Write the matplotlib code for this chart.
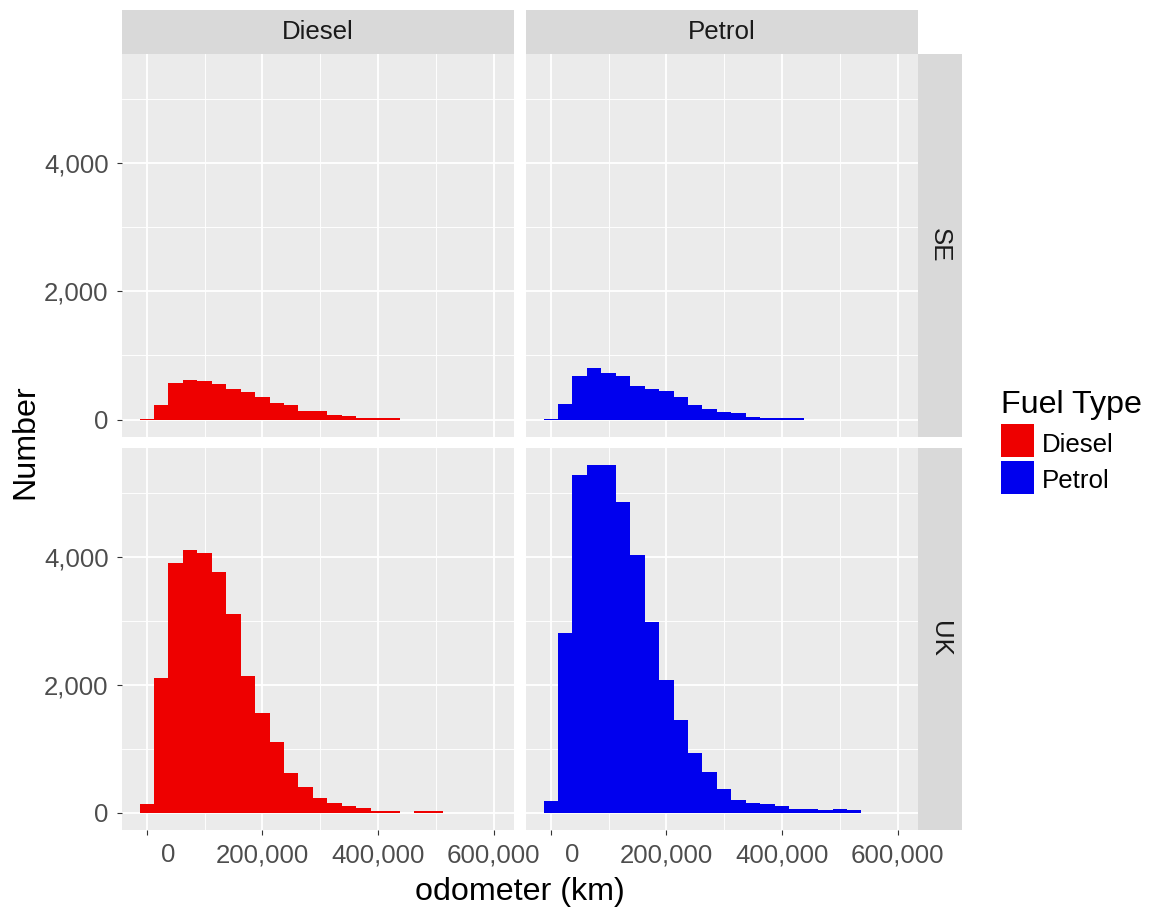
import matplotlib
import matplotlib.pyplot as plt
from matplotlib.patches import Rectangle
from matplotlib.ticker import FixedLocator
from matplotlib.transforms import ScaledTranslation

matplotlib.use("Agg")
plt.rcParams["font.family"] = ["Liberation Sans", "DejaVu Sans"]

fuel_types = ["Diesel", "Petrol"]
regions = ["SE", "UK"]
fuel_colors = ["#EE0000", "#0000EE"]

# odometer bins (km), 25,000 km wide, centred on these values
bin_centers = [0, 25000, 50000, 75000, 100000, 125000, 150000, 175000,
               200000, 225000, 250000, 275000, 300000, 325000, 350000,
               375000, 400000, 425000, 450000, 475000, 500000, 525000]
bin_width = 25000

diesel_se = [15, 229, 578, 625, 604, 557, 479, 432, 354, 255, 229,
             130, 130, 78, 52, 26, 26, 26, 0, 0, 0, 0]
petrol_se = [15, 250, 672, 797, 724, 672, 526, 474, 448, 349, 224,
             172, 125, 99, 47, 21, 21, 21, 0, 0, 0, 0]
diesel_uk = [130, 2107, 3906, 4099, 4052, 3755, 3098, 2133, 1554, 1111, 626,
             402, 235, 151, 104, 78, 26, 26, 0, 20, 20, 0]
petrol_uk = [183, 2806, 5283, 5429, 5429, 4850, 4026, 2973, 2081, 1455, 933,
             631, 375, 203, 156, 130, 104, 57, 57, 36, 57, 36]

counts = {
    ("SE", "Diesel"): diesel_se,
    ("SE", "Petrol"): petrol_se,
    ("UK", "Diesel"): diesel_uk,
    ("UK", "Petrol"): petrol_uk,
}

x_ticks = [0, 200000, 400000, 600000]
x_minor = [100000, 300000, 500000]
x_tick_labels = ["0", "200,000", "400,000", "600,000"]
y_ticks = [0, 2000, 4000]
y_minor = [1000, 3000, 5000]
y_tick_labels = ["0", "2,000", "4,000"]

# layout, in pixels of the 1153 x 907 output
W, H = 1153, 907
col_px = [(122, 513.5), (526, 917.5)]
row_px = [(54, 437), (448, 830)]
top_strip_px = (10.4, 54)
right_strip_px = (917.5, 962)
x_range = (-42800, 634500)
zero_label_shift = 21.5  # R pads "0" to the width of "600,000"

small = 18.6
big = 23.2


def px_box(x0, y0, x1, y1):
    return [x0 / W, 1 - y1 / H, (x1 - x0) / W, (y1 - y0) / H]


def blank(ax):
    ax.set_xticks([])
    ax.set_yticks([])
    for s in ax.spines.values():
        s.set_visible(False)


ymax = max(max(v) for v in counts.values())
y_range = (-0.05 * ymax, 1.05 * ymax)

fig = plt.figure(figsize=(W / 100, H / 100), dpi=100)
shift = ScaledTranslation(zero_label_shift / 100, 0, fig.dpi_scale_trans)

for r, region in enumerate(regions):
    for c, fuel in enumerate(fuel_types):
        x0, x1 = col_px[c]
        y0, y1 = row_px[r]
        ax = fig.add_axes(px_box(x0, y0, x1, y1))
        ax.set_facecolor("#EBEBEB")
        for s in ax.spines.values():
            s.set_visible(False)
        ax.bar(bin_centers, counts[(region, fuel)], width=bin_width,
               color=fuel_colors[c], linewidth=0)
        ax.set_xlim(*x_range)
        ax.set_ylim(*y_range)
        ax.set_xticks(x_ticks)
        ax.set_xticklabels(x_tick_labels)
        ax.set_yticks(y_ticks)
        ax.set_yticklabels(y_tick_labels)
        ax.xaxis.set_minor_locator(FixedLocator(x_minor))
        ax.yaxis.set_minor_locator(FixedLocator(y_minor))
        ax.set_axisbelow(True)
        ax.grid(which="major", color="white", linewidth=1.3)
        ax.grid(which="minor", color="white", linewidth=0.65)
        ax.tick_params(which="major", length=3.6, width=0.8, color="#333333",
                       labelcolor="#4D4D4D", labelsize=small, pad=6)
        ax.tick_params(which="minor", length=0)
        ax.tick_params(left=(c == 0), labelleft=(c == 0),
                       bottom=(r == 1), labelbottom=(r == 1))
        if r == 1:
            zero_lbl = ax.xaxis.get_major_ticks()[0].label1
            zero_lbl.set_transform(zero_lbl.get_transform() + shift)

        if r == 0:
            st = fig.add_axes(px_box(x0, top_strip_px[0], x1, top_strip_px[1]))
            st.set_facecolor("#D9D9D9")
            blank(st)
            st.text(0.5, 0.5, fuel, ha="center", va="center",
                    fontsize=small, color="#1A1A1A", transform=st.transAxes)

    st = fig.add_axes(px_box(right_strip_px[0], row_px[r][0],
                             right_strip_px[1], row_px[r][1]))
    st.set_facecolor("#D9D9D9")
    blank(st)
    st.text(0.5, 0.5, region, ha="center", va="center", rotation=-90,
            fontsize=small, color="#1A1A1A", transform=st.transAxes)

fig.text(519.5 / W, 1 - 900 / H, "odometer (km)", ha="center",
         va="baseline", fontsize=big, color="black")
fig.text(25 / W, 1 - 442 / H, "Number", ha="center", va="center",
         rotation=90, fontsize=big, color="black")

# legend
fig.text(1000.7 / W, 1 - 413.3 / H, "Fuel Type", ha="left", va="baseline",
         fontsize=big, color="black")
key_tops = [424, 460.7]
label_baselines = [451.7, 488.3]
for fuel, color, top, base in zip(fuel_types, fuel_colors, key_tops,
                                  label_baselines):
    fig.add_artist(Rectangle((1000.7 / W, 1 - (top + 33.3) / H),
                             33.3 / W, 33.3 / H, transform=fig.transFigure,
                             facecolor=color, edgecolor="none"))
    fig.text(1041.7 / W, 1 - base / H, fuel, ha="left", va="baseline",
             fontsize=small, color="black")

fig.savefig("out.png", dpi=100)
plt.close(fig)
